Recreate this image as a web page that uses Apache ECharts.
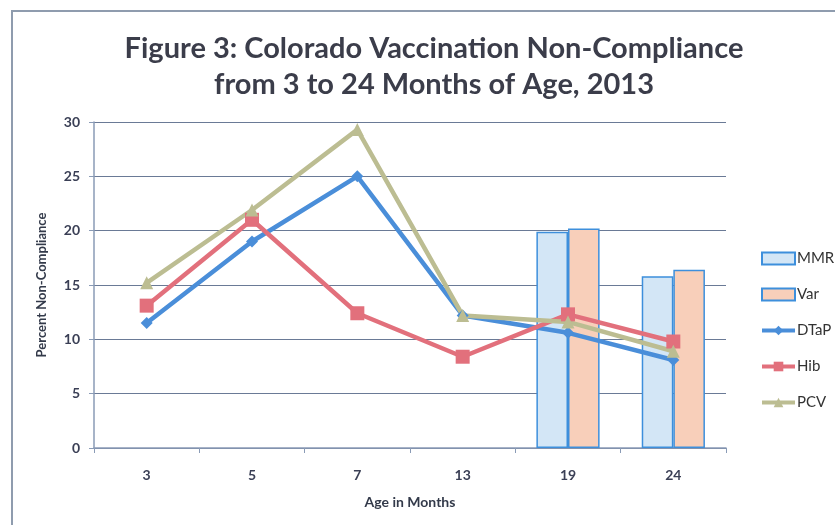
<!DOCTYPE html>
<html><head><meta charset="utf-8">
<script src="https://cdn.jsdelivr.net/npm/echarts@6/dist/echarts.min.js"></script>
<style>html,body{margin:0;padding:0;background:#fff}#c{width:835px;height:525px}</style>
</head><body><div id="c"></div>
<script>
const categories = ['3', '5', '7', '13', '19', '24'];
const mmr  = [null, null, null, null, 19.9, 15.8];
const varV = [null, null, null, null, 20.2, 16.4];
const dtap = [11.5, 19.0, 25.0, 12.2, 10.6, 8.1];
const hib  = [13.1, 21.0, 12.4, 8.4, 12.3, 9.8];
const pcv  = [15.2, 21.9, 29.3, 12.2, 11.6, 8.9];
const yTicks = [0, 5, 10, 15, 20, 25, 30];

const chart = echarts.init(document.getElementById('c'));
const fontFam = 'Lato, "Open Sans", sans-serif';
chart.setOption({
  animation: false,
  backgroundColor: '#fff',
  graphic: [{
    type: 'polyline', silent: true,
    shape: { points: [[12, 525], [12, 11], [835, 11]] },
    style: { stroke: '#8f9cae', lineWidth: 2, fill: null }
  }],
  title: {
    text: 'Figure 3: Colorado Vaccination Non-Compliance\nfrom 3 to 24 Months of Age, 2013',
    left: 429, top: 26, textAlign: 'center',
    textStyle: { fontFamily: fontFam, fontWeight: 'bold', fontSize: 29, color: '#3b3d4a', lineHeight: 36 }
  },
  legend: {
    orient: 'vertical', left: 755, top: 246, itemGap: 21,
    itemWidth: 33, itemHeight: 12,
    textStyle: { fontFamily: fontFam, fontSize: 15, color: '#333', padding: [0, 0, 0, -3] },
    data: [
      { name: 'MMR', icon: 'rect' }, { name: 'Var', icon: 'rect' },
      { name: 'DTaP', lineStyle: { width: 4 } },
      { name: 'Hib', lineStyle: { width: 4 } },
      { name: 'PCV', lineStyle: { width: 4 } }
    ]
  },
  grid: { left: 94, right: 109, top: 122, bottom: 77 },
  xAxis: {
    type: 'category', data: categories,
    name: 'Age in Months', nameLocation: 'middle', nameGap: 47,
    nameTextStyle: { fontFamily: fontFam, fontWeight: 'bold', fontSize: 14, color: '#333a4a' },
    axisLine: { lineStyle: { color: '#8a9bb6', width: 1.5 } },
    axisTick: { show: true, length: 5, lineStyle: { color: '#8a9bb6' } },
    axisLabel: { fontFamily: fontFam, fontWeight: 'bold', fontSize: 14, color: '#3a3f55', margin: 20 }
  },
  yAxis: {
    type: 'value', min: 0, max: 30, interval: 5,
    name: 'Percent Non-Compliance', nameLocation: 'middle', nameGap: 46,
    nameTextStyle: { fontFamily: fontFam, fontWeight: 'bold', fontSize: 13, color: '#333a4a' },
    axisLine: { show: true, lineStyle: { color: '#8a9bb6', width: 1.5 } },
    axisTick: { show: true, length: 5, lineStyle: { color: '#8a9bb6' } },
    axisLabel: { fontFamily: fontFam, fontWeight: 'bold', fontSize: 14, color: '#3a3f55', margin: 14,
      formatter: v => yTicks.includes(v) ? String(v) : '' },
    splitLine: { lineStyle: { color: '#6a7a96', width: 1 } }
  },
  series: [
    { name: 'MMR', type: 'bar', data: mmr, barGap: '0%', barCategoryGap: '40%',
      itemStyle: { color: '#d3e6f6', borderColor: '#3d8fdc', borderWidth: 1.5 } },
    { name: 'Var', type: 'bar', data: varV,
      itemStyle: { color: '#f8cfba', borderColor: '#3d8fdc', borderWidth: 1.5 } },
    { name: 'DTaP', type: 'line', data: dtap, symbol: 'diamond', symbolSize: 12,
      lineStyle: { color: '#4a8ed9', width: 4.5 }, itemStyle: { color: '#4a8ed9' } },
    { name: 'Hib', type: 'line', data: hib, symbol: 'rect', symbolSize: 14,
      lineStyle: { color: '#e2707c', width: 4.5 }, itemStyle: { color: '#e2707c' } },
    { name: 'PCV', type: 'line', data: pcv, symbol: 'triangle', symbolSize: 13,
      lineStyle: { color: '#bcbd92', width: 4.5 }, itemStyle: { color: '#bcbd92' } }
  ]
});
</script></body></html>
